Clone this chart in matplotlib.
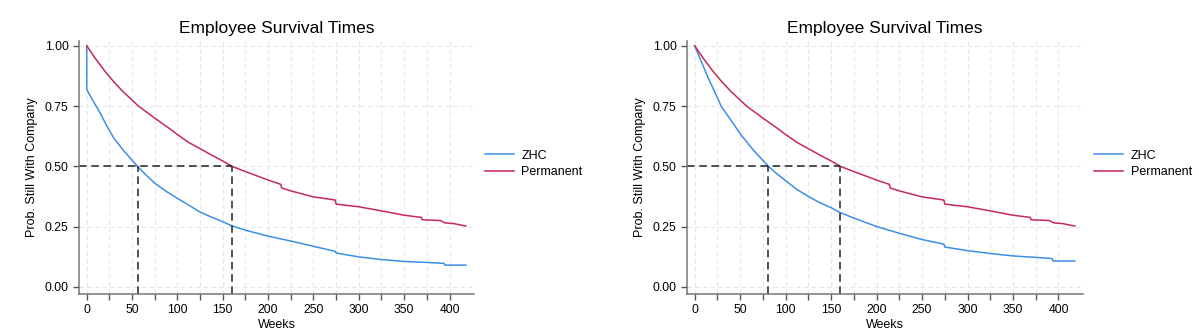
import numpy as np
import matplotlib.pyplot as plt

plt.rcParams['font.family'] = ['Liberation Sans', 'DejaVu Sans']

# Kaplan-Meier estimates (weeks, survival)
zhc_left_weeks = [0, 0, 0.5, 5, 10, 15, 20, 25, 30, 40, 50, 56, 65, 75, 88, 100, 112, 125, 137, 150, 160,
                  175, 200, 225, 250, 274, 275, 300, 325, 350, 375, 394, 395, 418]
zhc_left_surv = [1.0, 0.823, 0.815, 0.785, 0.752, 0.72, 0.683, 0.648, 0.617, 0.568, 0.525, 0.50, 0.465,
                 0.43, 0.395, 0.367, 0.34, 0.31, 0.29, 0.27, 0.253, 0.235, 0.21, 0.19, 0.168, 0.147, 0.14,
                 0.124, 0.113, 0.105, 0.101, 0.097, 0.09, 0.09]

zhc_right_weeks = [0, 5, 10, 15, 20, 29, 40, 51, 65, 81, 90, 100, 112, 125, 137, 150, 160,
                   175, 200, 225, 250, 274, 275, 300, 325, 350, 375, 393, 394, 418]
zhc_right_surv = [1.0, 0.955, 0.91, 0.865, 0.825, 0.75, 0.69, 0.63, 0.565, 0.50, 0.47, 0.44,
                  0.405, 0.375, 0.35, 0.328, 0.308, 0.285, 0.25, 0.222, 0.196, 0.177, 0.165, 0.15, 0.138,
                  0.128, 0.122, 0.117, 0.107, 0.107]

perm_weeks = [0, 10, 20, 30, 40, 50, 57, 75, 90, 100, 112, 125, 137, 150, 160, 175,
              200, 214, 215, 225, 250, 274, 275, 300, 325, 350, 369, 370, 390, 395, 405, 410, 418]
perm_surv = [1.0, 0.945, 0.895, 0.85, 0.81, 0.775, 0.75, 0.70, 0.66, 0.632, 0.60, 0.573, 0.548, 0.522,
             0.50, 0.478, 0.443, 0.425, 0.41, 0.398, 0.373, 0.36, 0.343, 0.332, 0.315, 0.297, 0.288,
             0.278, 0.275, 0.265, 0.262, 0.258, 0.252]

left_medians = [56, 160]
right_medians = [81, 160]

zhc_color = '#3d8fe6'
perm_color = '#c42a58'

fig = plt.figure(figsize=(11.99, 3.35), dpi=100)
panels = [
    (fig.add_axes([79 / 1199, 41 / 335, 395 / 1199, 253 / 335]), zhc_left_weeks, zhc_left_surv, left_medians),
    (fig.add_axes([687 / 1199, 41 / 335, 396 / 1199, 253 / 335]), zhc_right_weeks, zhc_right_surv, right_medians),
]

for ax, zw, zs, meds in panels:
    ax.plot(zw, zs, color=zhc_color, lw=1.1, label='ZHC')
    ax.plot(perm_weeks, perm_surv, color=perm_color, lw=1.1, label='Permanent')
    ax.plot([-8.5, meds[1]], [0.5, 0.5], color='#222222', lw=1.1, ls=(0, (5, 3)))
    for m in meds:
        ax.plot([m, m], [-0.03, 0.5], color='#222222', lw=1.1, ls=(0, (5, 3)))
    ax.set_xlim(-8.5, 427)
    ax.set_ylim(-0.03, 1.02)
    ax.set_xticks(np.arange(0, 401, 50))
    ax.set_xticks(np.arange(25, 401, 50), minor=True)
    ax.set_yticks([0, 0.25, 0.5, 0.75, 1.0])
    ax.set_yticklabels(['0.00', '0.25', '0.50', '0.75', '1.00'])
    ax.grid(True, which='both', axis='x', color='#e6e6e6', ls=(0, (4, 3)), lw=0.8)
    ax.grid(True, which='major', axis='y', color='#e6e6e6', ls=(0, (4, 3)), lw=0.8)
    ax.set_axisbelow(True)
    for s in ['top', 'right']:
        ax.spines[s].set_visible(False)
    for s in ['left', 'bottom']:
        ax.spines[s].set_color('#777777')
        ax.spines[s].set_linewidth(1.1)
    ax.tick_params(which='both', direction='out', color='#555555', length=4.5, width=1.0,
                   labelsize=8.7, pad=3)
    ax.set_title('Employee Survival Times', fontsize=12.5, pad=6)
    ax.set_xlabel('Weeks', fontsize=9, labelpad=2)
    ax.set_ylabel('Prob. Still With Company', fontsize=9, labelpad=5)
    ax.legend(loc='center left', bbox_to_anchor=(1.0, 0.515), frameon=False, fontsize=9,
              handlelength=2.3, handletextpad=0.6, labelspacing=0.35, borderaxespad=0.5)

fig.savefig('out.png', dpi=100)
